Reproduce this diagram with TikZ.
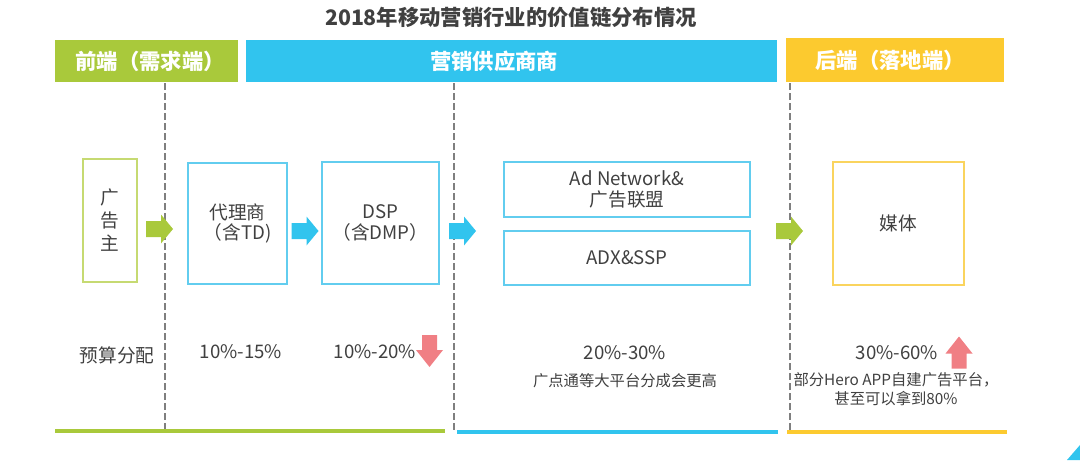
\documentclass[tikz,border=0pt]{standalone}
\usepackage{fontspec}
\setmainfont{Noto Sans CJK SC}
\definecolor{chaingreen}{HTML}{A9C93B}
\definecolor{chainblue}{HTML}{31C4EE}
\definecolor{chainyellow}{HTML}{FCCA2F}
\definecolor{boxgreen}{HTML}{C6DA72}
\definecolor{boxblue}{HTML}{62CDEF}
\definecolor{boxyellow}{HTML}{FAD45E}
\definecolor{trendred}{HTML}{F07F84}
\definecolor{textgray}{HTML}{404040}
\definecolor{dashgray}{HTML}{7F7F7F}
\tikzset{
  header/.style={text=white, font=\fontsize{16}{19}\selectfont\bfseries},
  stagebox/.style={draw, line width=1.5pt, inner sep=0pt, align=center, text=textgray, font=\fontsize{14}{15.5}\selectfont},
  share/.style={text=textgray, font=\fontsize{14}{16}\selectfont},
  note/.style={text=textgray, font=\fontsize{11.5}{14}\selectfont, align=center},
  divider/.style={dashgray, line width=2pt, dash pattern=on 5pt off 2.5pt},
  baseline rule/.style={line width=3pt},
  flow arrow/.pic={\fill (-13.5,-8) -- (1.5,-8) -- (1.5,-14.5) -- (13.5,0) -- (1.5,14.5) -- (1.5,8) -- (-13.5,8) -- cycle;},
  trend arrow/.pic={\fill (-16,-7.5) -- (-1,-7.5) -- (-1,-13.5) -- (16,0) -- (-1,13.5) -- (-1,7.5) -- (-16,7.5) -- cycle;}
}
\begin{document}
\begin{tikzpicture}[x=0.75pt, y=-0.75pt]
    \useasboundingbox (0,0) rectangle (1080,460);

    % Title
    \node[text=textgray, font=\fontsize{16}{19}\selectfont\bfseries] (title) at (511,17) {2018年移动营销行业的价值链分布情况};

    % Header bars
    \fill[chaingreen] (55,40) rectangle (238,82);
    \node[header] (front) at (150,61) {前端（需求端）};
    \fill[chainblue] (246,40) rectangle (777,82);
    \node[header] (supply) at (494,61) {营销供应商商};
    \fill[chainyellow] (786,38) rectangle (1004,82);
    \node[header] (back) at (890,60) {后端（落地端）};

    % Dashed dividers
    \draw[divider] (165,83) -- (165,432);
    \draw[divider] (454,83) -- (454,432);
    \draw[divider] (790,83) -- (790,432);

    % Stage boxes
    \node[stagebox, draw=boxgreen, minimum width=40.5pt, minimum height=92.25pt, font=\fontsize{14}{17}\selectfont] (adv) at (110,220) {广\\告\\主};
    \node[stagebox, draw=boxblue, minimum width=74.25pt, minimum height=90.75pt] (agency) at (237.5,223.5) {代理商\\（含TD)};
    \node[stagebox, draw=boxblue, minimum width=87.75pt, minimum height=91.5pt] (dsp) at (380.5,223) {DSP\\（含DMP）};
    \node[stagebox, draw=boxblue, minimum width=184.5pt, minimum height=41.25pt] (adnet) at (627,189.5) {Ad Network\&\\广告联盟};
    \node[stagebox, draw=boxblue, minimum width=184.5pt, minimum height=40.5pt] (adx) at (627,258) {ADX\&SSP};
    \node[stagebox, draw=boxyellow, minimum width=98.25pt, minimum height=92.25pt] (media) at (898.5,223.5) {媒体};

    % Flow arrows
    \pic[chaingreen] at (159.5,229) {flow arrow};
    \pic[chainblue] at (305,231) {flow arrow};
    \pic[chainblue] at (462.5,231) {flow arrow};
    \pic[chaingreen] at (789.5,231) {flow arrow};

    % Budget shares
    \node[share] (budget) at (117,355) {预算分配};
    \node[share] (agencyshare) at (241,352) {10\%-15\%};
    \node[share] (dspshare) at (375,352) {10\%-20\%};
    \pic[trendred, rotate=-90] at (429.5,351) {trend arrow};
    \node[share] (supplyshare) at (625,353) {20\%-30\%};
    \node[note] (supplynote) at (625,381) {广点通等大平台分成会更高};
    \node[share] (mediashare) at (897,353) {30\%-60\%};
    \pic[trendred, rotate=90] at (959,352.5) {trend arrow};
    \node[note, font=\fontsize{11.5}{14.25}\selectfont] (medianote) at (896,389.5) {部分Hero APP自建广告平台，\\甚至可以拿到80\%};

    % Bottom rules
    \draw[baseline rule, chaingreen] (55,431) -- (445,431);
    \draw[baseline rule, chainblue] (457,432) -- (778,432);
    \draw[baseline rule, chainyellow] (787,432) -- (1007,432);

    % Corner mark
    \fill[chainblue] (1067,460) -- (1080,445) -- (1080,460) -- cycle;
\end{tikzpicture}
\end{document}
